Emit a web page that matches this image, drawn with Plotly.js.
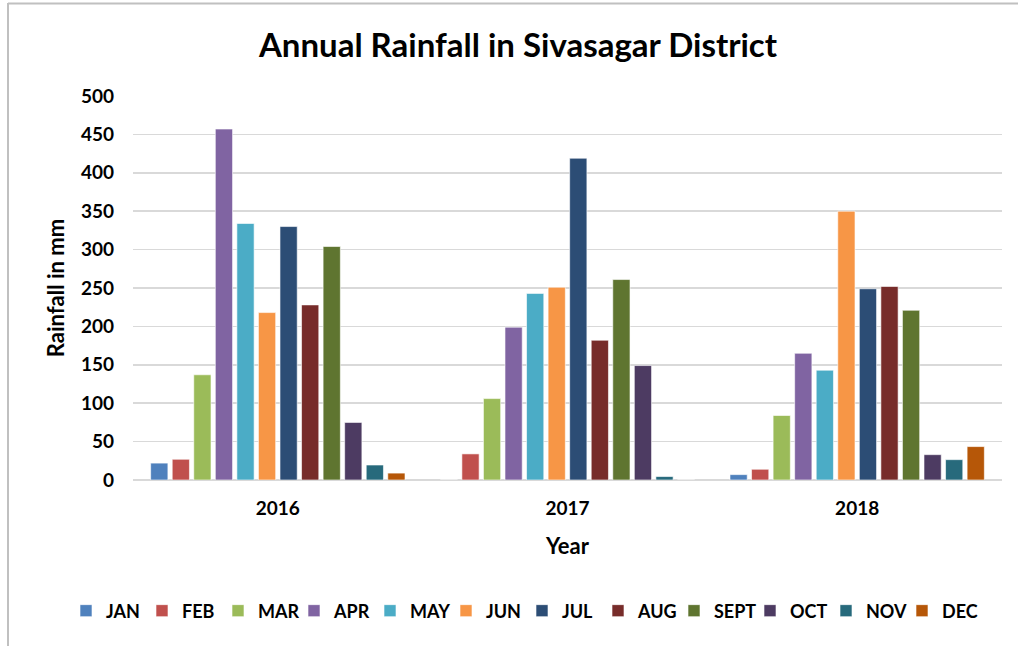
<!DOCTYPE html>
<html>
<head>
<meta charset="utf-8">
<script src="https://cdn.plot.ly/plotly-3.0.1.min.js"></script>
<style>html,body{margin:0;padding:0;background:#fff}#chart{width:1018px;height:646px}</style>
</head>
<body>
<div id="chart"></div>
<script>
const years = ['2016', '2017', '2018'];
const months = ['JAN','FEB','MAR','APR','MAY','JUN','JUL','AUG','SEPT','OCT','NOV','DEC'];
const colors = ['#4f81bd','#c0504d','#9bbb59','#8064a2','#4bacc6','#f79646','#2c4d75','#772c2a','#5f7530','#4d3b62','#276a7c','#b65708'];
const JAN  = [22, 0, 7];
const FEB  = [27, 34, 14];
const MAR  = [137, 106, 84];
const APR  = [457, 199, 165];
const MAY  = [334, 243, 143];
const JUN  = [218, 251, 350];
const JUL  = [330, 419, 249];
const AUG  = [228, 182, 252];
const SEPT = [304, 261, 221];
const OCT  = [75, 149, 33];
const NOV  = [19.5, 4.5, 26.5];
const DEC  = [9, 0, 43.5];
const series = [JAN, FEB, MAR, APR, MAY, JUN, JUL, AUG, SEPT, OCT, NOV, DEC];

const FONT = 'Lato, "Open Sans", "Liberation Sans", sans-serif';

const data = months.map((m, i) => ({
  type: 'bar',
  name: m,
  x: years,
  y: series[i],
  marker: {color: colors[i], line: {color: 'rgba(255,255,255,0.6)', width: 1}},
  hoverinfo: 'x+y+name'
}));

const layout = {
  width: 1018, height: 646,
  paper_bgcolor: '#fff', plot_bgcolor: '#fff',
  margin: {l: 133, r: 16, t: 96, b: 166},
  font: {family: FONT, color: '#000', size: 16},
  title: {text: '<b>Annual Rainfall in Sivasagar District</b>', font: {family: FONT, size: 33, color: '#000'},
          x: 518/1018, xanchor: 'center', xref: 'container', y: 1 - 45/646, yanchor: 'middle', yref: 'container'},
  barmode: 'group', bargap: 0.107, bargroupgap: 0.2,
  xaxis: {
    type: 'category', showgrid: false, zeroline: false, showline: false, ticks: '',
    tickfont: {family: FONT, size: 19, color: '#000', weight: 'bold'},
    ticklabelstandoff: 15,
    title: {text: '<b>Year</b>', font: {family: FONT, size: 22, color: '#000'}, standoff: 20}
  },
  yaxis: {
    range: [0, 500], dtick: 50, tick0: 0, showgrid: true, gridcolor: '#d9d9d9', gridwidth: 1.5,
    zeroline: true, zerolinecolor: '#d9d9d9', zerolinewidth: 1.5, showline: false, ticks: '',
    tickfont: {family: FONT, size: 19, color: '#000', weight: 'bold'},
    ticklabelstandoff: 18,
    title: {text: '<b>Rainfall in mm</b>', font: {family: FONT, size: 22, color: '#000'}, standoff: 10}
  },
  legend: {
    orientation: 'h', x: (66 - 133) / 869, xanchor: 'left', y: -0.341, yanchor: 'middle',
    font: {family: FONT, size: 18, color: '#000', weight: 'bold'},
    entrywidth: 31, entrywidthmode: 'pixels',
    itemwidth: 30, tracegroupgap: 0, traceorder: 'normal'
  },
  shapes: [
    {type: 'line', xref: 'paper', yref: 'paper', x0: -125/869, x1: 1.03, y0: 1 + 92.5/384, y1: 1 + 92.5/384,
     line: {color: '#c0c0c0', width: 2}},
    {type: 'line', xref: 'paper', yref: 'paper', x0: -125/869, x1: -125/869, y0: 1 + 93/384, y1: -170/384,
     line: {color: '#c0c0c0', width: 2}}
  ],
  showlegend: true
};

Plotly.newPlot('chart', data, layout, {displayModeBar: false, staticPlot: true});
</script>
</body>
</html>
